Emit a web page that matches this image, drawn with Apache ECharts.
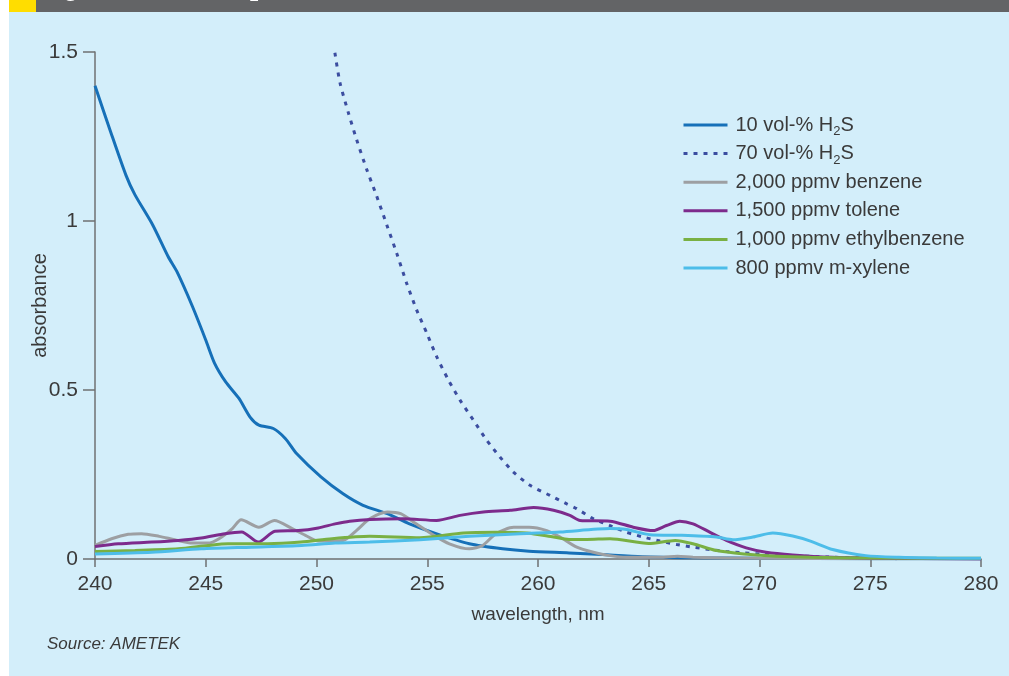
<!DOCTYPE html>
<html><head><meta charset="utf-8">
<script src="https://cdn.jsdelivr.net/npm/echarts@6/dist/echarts.min.js"></script>
<style>html,body{margin:0;padding:0;background:#fff}#c{width:1009px;height:676px}</style>
</head><body><div id="c"></div><script>
// ---- data (wavelength nm, absorbance) ----
const xTicks = [240, 245, 250, 255, 260, 265, 270, 275, 280];
const yTicks = [0, 0.5, 1, 1.5];
const seriesNames = ['10 vol-% H2S', '70 vol-% H2S', '2,000 ppmv benzene', '1,500 ppmv tolene', '1,000 ppmv ethylbenzene', '800 ppmv m-xylene'];

const h2s10 = [[240,1.40],[240.7,1.265],[241.4,1.135],[241.8,1.078],[242.6,0.989],[243.3,0.895],[243.7,0.850],[244.4,0.747],[245.0,0.648],[245.4,0.579],[245.9,0.524],[246.5,0.475],[247.0,0.420],[247.4,0.396],[248.05,0.386],[248.6,0.356],[249.1,0.312],[250.2,0.243],[251.2,0.193],[252.1,0.159],[253.2,0.134],[254.2,0.104],[255.4,0.075],[256.9,0.045],[258.4,0.030],[259.6,0.023],[261.4,0.018],[262.9,0.013],[264.7,0.007],[267,0.004],[270,0.002],[275,0.001],[280,0]];
const h2s70 = [[250.83,1.498],[251.06,1.409],[251.44,1.320],[251.81,1.241],[252.27,1.152],[252.72,1.073],[253.17,0.989],[253.62,0.905],[254.07,0.816],[254.52,0.737],[254.98,0.668],[255.43,0.598],[255.96,0.529],[256.48,0.470],[257.08,0.411],[257.69,0.351],[258.28,0.302],[258.89,0.257],[259.64,0.218],[260.54,0.188],[261.3,0.163],[261.74,0.149],[262.5,0.119],[263.25,0.099],[264.0,0.079],[264.75,0.065],[265.5,0.053],[266.26,0.043],[267.0,0.035],[267.77,0.028],[268.5,0.022],[269.3,0.018],[270.0,0.015],[271.5,0.010],[273,0.006],[274.5,0.003],[276.2,0.001]];
const benzene = [[240,0.040],[240.75,0.060],[241.5,0.073],[242.1,0.075],[242.9,0.067],[243.6,0.057],[244.4,0.047],[245.1,0.047],[245.6,0.060],[246.2,0.090],[246.6,0.116],[247.4,0.094],[248.1,0.114],[248.9,0.090],[249.5,0.070],[250.1,0.053],[251.2,0.055],[251.8,0.084],[252.4,0.119],[253.2,0.139],[253.8,0.134],[254.5,0.104],[255.3,0.070],[256.0,0.045],[256.9,0.030],[257.5,0.040],[258.1,0.075],[258.9,0.094],[259.6,0.094],[260.4,0.084],[261.0,0.065],[261.75,0.035],[262.5,0.020],[263.25,0.010],[264,0.005],[265.5,0.005],[266.3,0.008],[267,0.005],[270,0.002],[275,0.001],[280,0]];
const tolene = [[240,0.037],[241.05,0.045],[242.56,0.050],[243.76,0.055],[244.8,0.062],[245.87,0.075],[246.62,0.080],[247.37,0.050],[248.12,0.082],[249.18,0.084],[250.08,0.092],[250.84,0.104],[251.5,0.112],[252.42,0.117],[253.92,0.119],[255.42,0.114],[256.48,0.129],[257.53,0.139],[258.74,0.144],[259.8,0.152],[260.7,0.144],[261.44,0.129],[261.9,0.114],[263.25,0.112],[264.3,0.094],[265.2,0.084],[265.8,0.099],[266.4,0.112],[267.0,0.104],[267.77,0.079],[268.5,0.055],[269.4,0.033],[270.3,0.020],[271.5,0.012],[273.3,0.005],[275,0.003],[280,0]];
const ethylbenzene = [[240,0.022],[241.8,0.025],[243.76,0.030],[245.1,0.040],[246.0,0.045],[247.8,0.045],[249.3,0.050],[250.7,0.060],[252.4,0.067],[254.67,0.063],[256.63,0.077],[258.1,0.079],[259.5,0.077],[260.7,0.065],[261.4,0.058],[262.2,0.058],[263.25,0.060],[265.0,0.046],[266.2,0.055],[267.0,0.045],[268.06,0.025],[269.3,0.015],[270.8,0.008],[272.3,0.005],[275,0.003],[280,0.002]];
const mxylene = [[240,0.015],[242.56,0.020],[244.8,0.030],[247.07,0.035],[249.33,0.040],[250.84,0.047],[252.4,0.050],[254.67,0.057],[256.9,0.067],[259.2,0.075],[261.0,0.080],[263.25,0.090],[264.0,0.087],[265.05,0.072],[266.5,0.070],[268.06,0.065],[268.8,0.057],[269.7,0.065],[270.6,0.077],[271.5,0.068],[272.3,0.053],[273.3,0.028],[274.8,0.010],[276.3,0.005],[278,0.003],[280,0.002]];

const FONT = "'Liberation Sans', Arial, sans-serif";
const TXT = '#3a3a3a';
const AX = '#6f7072';

function mk(name, data, color, type) {
  return {
    name: name, type: 'line', data: data, smooth: 0.25,
    symbol: 'circle', showSymbol: false, clip: true,
    lineStyle: { color: color, width: 3, type: type || 'solid', cap: 'butt' },
    itemStyle: { color: color }
  };
}

const chart = echarts.init(document.getElementById('c'), null, { renderer: 'canvas' });
chart.setOption({
  animation: false,
  backgroundColor: '#d3eefa',
  grid: { left: 95, right: 28, top: 52, bottom: 117 },
  graphic: [
    { type: 'rect', shape: { x: 0, y: 0, width: 9, height: 676 }, style: { fill: '#ffffff' }, silent: true },
    { type: 'rect', shape: { x: 9, y: 0, width: 1000, height: 12 }, style: { fill: '#636466' }, silent: true },
    { type: 'rect', shape: { x: 9, y: 0, width: 27, height: 12 }, style: { fill: '#ffdd00' }, silent: true },
    { type: 'text', left: 40, top: -24, style: { text: 'Figure', fill: '#ffffff', font: 'bold 26px ' + FONT } },
    { type: 'text', left: 231, top: -25, style: { text: 'H{s|2}S', fill: '#ffffff', font: 'bold 26px ' + FONT, lineHeight: 30,
        rich: { s: { fontSize: 16, fontWeight: 'bold', lineHeight: 2, verticalAlign: 'bottom', fill: '#ffffff' } } } },
    { type: 'text', left: 47, top: 636, style: { text: 'Source: AMETEK', fill: TXT, font: 'italic 17px ' + FONT } }
  ],
  legend: {
    orient: 'vertical', left: 677, top: 107, itemWidth: 44, itemHeight: 14, itemGap: 2.6,
    data: seriesNames,
    itemStyle: { opacity: 0 },
    lineStyle: { width: 3 },
    formatter: n => n.replace('H2S', 'H{s|2}S'),
    textStyle: { fontSize: 20, fontFamily: FONT, color: TXT, lineHeight: 26, padding: [0, 0, 0, 3],
      rich: { s: { fontSize: 13, fontFamily: FONT, color: TXT, lineHeight: 4, verticalAlign: 'bottom' } } }
  },
  xAxis: {
    type: 'value', min: xTicks[0], max: xTicks[xTicks.length - 1], interval: 5,
    name: 'wavelength, nm', nameLocation: 'middle', nameGap: 46,
    nameTextStyle: { fontSize: 19, fontFamily: FONT, color: TXT },
    axisLine: { show: true, lineStyle: { color: AX, width: 1.5 } },
    axisTick: { show: true, inside: false, length: 8, lineStyle: { color: AX, width: 1.5 } },
    axisLabel: { fontSize: 21, fontFamily: FONT, color: TXT, margin: 15 },
    splitLine: { show: false }
  },
  yAxis: {
    type: 'value', min: yTicks[0], max: yTicks[yTicks.length - 1], interval: 0.5,
    name: 'absorbance', nameLocation: 'middle', nameGap: 45, nameRotate: 90, nameMoveOverlap: false,
    nameTextStyle: { fontSize: 20, fontFamily: FONT, color: TXT },
    axisLine: { show: true, lineStyle: { color: AX, width: 1.5 } },
    axisTick: { show: true, inside: false, length: 12, lineStyle: { color: AX, width: 1.5 } },
    axisLabel: { fontSize: 21, fontFamily: FONT, color: TXT, margin: 17 },
    splitLine: { show: false }
  },
  series: [
    mk(seriesNames[0], h2s10, '#1670b8'),
    mk(seriesNames[1], h2s70, '#3b4da0', [4, 6]),
    mk(seriesNames[2], benzene, '#9d9fa2'),
    mk(seriesNames[3], tolene, '#7d2b8c'),
    mk(seriesNames[4], ethylbenzene, '#79b043'),
    mk(seriesNames[5], mxylene, '#4dbde9')
  ]
});
</script></body></html>
